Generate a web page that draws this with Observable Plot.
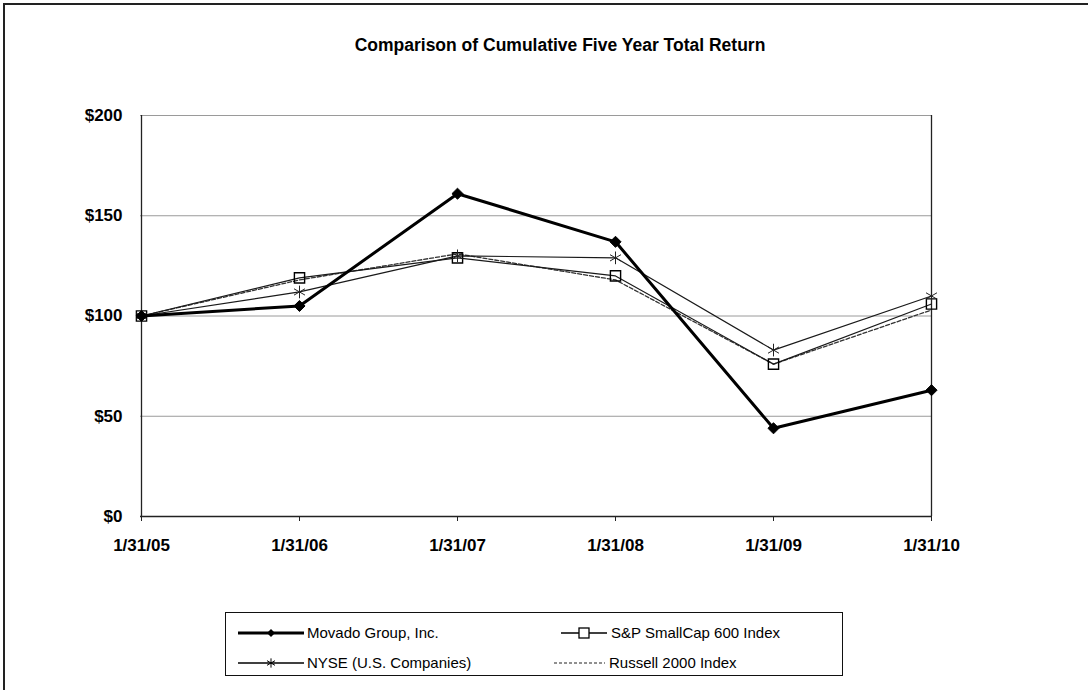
<!DOCTYPE html>
<html>
<head>
<meta charset="utf-8">
<script src="https://cdn.jsdelivr.net/npm/d3@7"></script>
<script src="https://cdn.jsdelivr.net/npm/@observablehq/plot@0.6"></script>
<style>
  html, body { margin: 0; padding: 0; background: #fff; }
  body { width: 1088px; height: 690px; overflow: hidden; font-family: "Liberation Sans", Arial, sans-serif; }
  #wrap { position: relative; width: 1088px; height: 690px; }
  #border { position: absolute; left: 3px; top: 3px; width: 1100px; height: 700px; border-left: 2px solid #222; border-top: 2px solid #222; box-sizing: border-box; }
  #title { position: absolute; left: 560px; top: 35px; transform: translateX(-50%); font-weight: bold; font-size: 17.5px; white-space: nowrap; color: #000; }
  #chart { position: absolute; left: 0; top: 0; }
  #legend { position: absolute; left: 225px; top: 612px; width: 618px; height: 64px; border: 1.5px solid #111; box-sizing: border-box; background: #fff; }
  #legend svg { position: absolute; left: 0; top: 0; }
  #legend text { font-family: "Liberation Sans", Arial, sans-serif; font-size: 15px; fill: #000; }
</style>
</head>
<body>
<div id="wrap">
  <div id="border"></div>
  <div id="title">Comparison of Cumulative Five Year Total Return</div>
  <div id="chart"></div>
  <div id="legend"></div>
</div>
<script>
const dates = ["1/31/05", "1/31/06", "1/31/07", "1/31/08", "1/31/09", "1/31/10"];
const movado = [100, 105, 161, 137, 44, 63];
const sp600 = [100, 119, 129, 120, 76, 106];
const nyse = [100, 112, 130, 129, 83, 110];
const russell = [100, 118, 131, 118, 76, 103];
const yTicks = [0, 50, 100, 150, 200];
const seriesNames = ["Movado Group, Inc.", "S&P SmallCap 600 Index", "NYSE (U.S. Companies)", "Russell 2000 Index"];

const toRows = (vals, name) => vals.map((v, i) => ({date: dates[i], value: v, series: name}));
const movadoRows = toRows(movado, seriesNames[0]);
const spRows = toRows(sp600, seriesNames[1]);
const nyseRows = toRows(nyse, seriesNames[2]);
const russellRows = toRows(russell, seriesNames[3]);

const chart = Plot.plot({
  width: 1088,
  height: 690,
  marginLeft: 140,
  marginRight: 156,
  marginTop: 115,
  marginBottom: 174,
  style: {background: "transparent", fontFamily: "'Liberation Sans', Arial, sans-serif"},
  x: {type: "point", domain: dates, padding: 0, label: null},
  y: {domain: [0, 200], label: null},
  marks: [
    Plot.gridY(yTicks.filter(d => d > 0), {stroke: "#9a9a9a", strokeOpacity: 1, strokeWidth: 1}),
    Plot.ruleX([dates[0], dates[dates.length - 1]], {stroke: "#222", strokeWidth: 1.3}),
    Plot.ruleY([0], {stroke: "#222", strokeWidth: 1.5}),
    Plot.axisY({ticks: yTicks, tickFormat: d => "$" + d, tickSize: 0, tickPadding: 18, fontSize: 17, fontWeight: "bold", fill: "#000", label: null}),
    Plot.axisX({tickSize: 5, tickPadding: 17, fontSize: 17, fontWeight: "bold", fill: "#000", stroke: "#222", label: null}),
    Plot.line(russellRows, {x: "date", y: "value", stroke: "#333", strokeWidth: 1.3, strokeDasharray: "4,2"}),
    Plot.line(nyseRows, {x: "date", y: "value", stroke: "#1a1a1a", strokeWidth: 1.2}),
    Plot.line(spRows, {x: "date", y: "value", stroke: "#1a1a1a", strokeWidth: 1.2}),
    Plot.line(movadoRows, {x: "date", y: "value", stroke: "#000", strokeWidth: 3}),
    Plot.dot(spRows, {x: "date", y: "value", symbol: "square2", r: 6.5, stroke: "#000", strokeWidth: 1.4, fill: "none"}),
    Plot.dot(nyseRows, {x: "date", y: "value", symbol: "asterisk", r: 6, stroke: "#222", strokeWidth: 1}),
    Plot.dot(movadoRows, {x: "date", y: "value", symbol: "diamond2", r: 5, fill: "#000", stroke: "#000", strokeWidth: 1})
  ]
});
document.getElementById("chart").appendChild(chart);

// Legend
const leg = d3.select("#legend").append("svg").attr("width", 618).attr("height", 64);
const dia = d3.symbol(d3.symbolDiamond2, 40)();
const ast = d3.symbol(d3.symbolAsterisk, 60)();
// row 1
leg.append("line").attr("x1", 12).attr("x2", 78).attr("y1", 20).attr("y2", 20).attr("stroke", "#000").attr("stroke-width", 3);
leg.append("path").attr("d", dia).attr("transform", "translate(45,20)").attr("fill", "#000");
leg.append("text").attr("x", 81).attr("y", 25).text(seriesNames[0]);
leg.append("line").attr("x1", 335).attr("x2", 381).attr("y1", 20).attr("y2", 20).attr("stroke", "#000").attr("stroke-width", 1.3);
leg.append("rect").attr("x", 353).attr("y", 15).attr("width", 10).attr("height", 10).attr("fill", "#fff").attr("stroke", "#000").attr("stroke-width", 1.3);
leg.append("text").attr("x", 385).attr("y", 25).text(seriesNames[1]);
// row 2
leg.append("line").attr("x1", 12).attr("x2", 78).attr("y1", 50).attr("y2", 50).attr("stroke", "#000").attr("stroke-width", 1.3);
leg.append("path").attr("d", ast).attr("transform", "translate(45,50)").attr("fill", "none").attr("stroke", "#000").attr("stroke-width", 1);
leg.append("text").attr("x", 81).attr("y", 55).text(seriesNames[2]);
leg.append("line").attr("x1", 328).attr("x2", 379).attr("y1", 50).attr("y2", 50).attr("stroke", "#222").attr("stroke-width", 1.2).attr("stroke-dasharray", "3,2");
leg.append("text").attr("x", 383).attr("y", 55).text(seriesNames[3]);
</script>
</body>
</html>
